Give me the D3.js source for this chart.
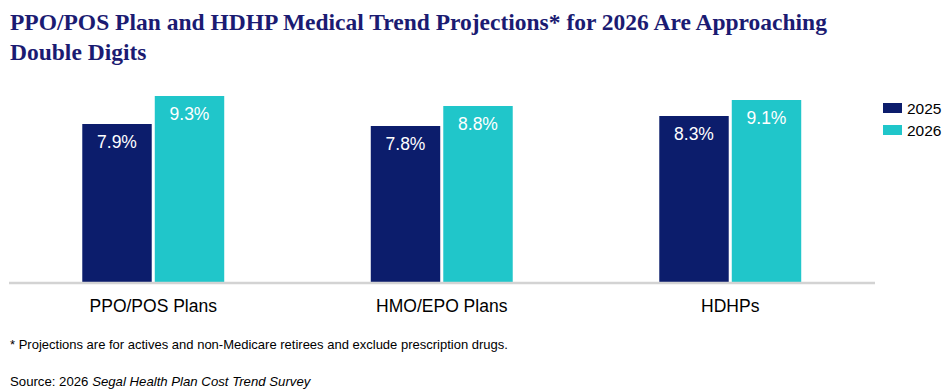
<!DOCTYPE html>
<html>
<head>
<meta charset="utf-8">
<script src="https://cdn.jsdelivr.net/npm/d3@7/dist/d3.min.js"></script>
<style>
  html, body { margin: 0; padding: 0; background: #fff; }
  svg { display: block; }
</style>
</head>
<body>
<svg id="chart" width="951" height="392"></svg>
<script>
const categories = ["PPO/POS Plans", "HMO/EPO Plans", "HDHPs"];
const seriesNames = ["2025", "2026"];
const values2025 = [7.9, 7.8, 8.3];
const values2026 = [9.3, 8.8, 9.1];
const titleLines = [
  "PPO/POS Plan and HDHP Medical Trend Projections* for 2026 Are Approaching",
  "Double Digits"
];
const footnote = "* Projections are for actives and non-Medicare retirees and exclude prescription drugs.";
const sourcePlain = "Source: 2026 ";
const sourceItalic = "Segal Health Plan Cost Trend Survey";

const colors = { "2025": "#0c1d6c", "2026": "#20c6ca" };
const seriesValues = { "2025": values2025, "2026": values2026 };

const svg = d3.select("#chart");
const sans = "'Liberation Sans', Arial, Helvetica, sans-serif";

// Title
const title = svg.append("text")
  .attr("x", 10)
  .attr("font-family", "'Liberation Serif', 'Times New Roman', serif")
  .attr("font-weight", "bold")
  .attr("font-size", 23.5)
  .attr("fill", "#1b1b72");
title.selectAll("tspan").data(titleLines).join("tspan")
  .attr("x", 10)
  .attr("y", (d, i) => 30 + i * 29.5)
  .text(d => d);

// Scales
const baseline = 282;
const y = d3.scaleLinear().domain([0, 10]).range([baseline, baseline - 200]);
const x0 = d3.scaleBand().domain(categories).range([9, 874.5])
  .paddingInner(0.508).paddingOuter(0.254);
const x1 = d3.scaleBand().domain(seriesNames).range([0, x0.bandwidth()]).paddingInner(0.042);

const data = categories.map((c, i) => ({
  category: c,
  values: seriesNames.map(s => ({ series: s, value: seriesValues[s][i] }))
}));

const groups = svg.append("g").selectAll("g").data(data).join("g")
  .attr("transform", d => `translate(${x0(d.category)},0)`);

groups.selectAll("rect").data(d => d.values).join("rect")
  .attr("x", d => x1(d.series))
  .attr("y", d => y(d.value))
  .attr("width", x1.bandwidth())
  .attr("height", d => baseline - y(d.value))
  .attr("fill", d => colors[d.series]);

groups.selectAll("text.val").data(d => d.values).join("text")
  .attr("class", "val")
  .attr("x", d => x1(d.series) + x1.bandwidth() / 2)
  .attr("y", d => y(d.value) + 24)
  .attr("text-anchor", "middle")
  .attr("font-family", sans)
  .attr("font-size", 17.5)
  .attr("fill", "#ffffff")
  .text(d => d.value.toFixed(1) + "%");

// Baseline axis
const xAxis = d3.axisBottom(x0).tickSize(0).tickPadding(17);
const axisG = svg.append("g").attr("transform", `translate(0,${baseline + 1})`).call(xAxis);
axisG.select(".domain").attr("stroke", "#d3d3d3").attr("stroke-width", 2.5)
  .attr("d", "M9,0H875");
axisG.selectAll(".tick text")
  .attr("font-family", sans)
  .attr("font-size", 17.5)
  .attr("fill", "#000");

// Legend
const legend = svg.append("g").selectAll("g").data(seriesNames).join("g")
  .attr("transform", (d, i) => `translate(883,${103 + i * 22})`);
legend.append("rect").attr("width", 19).attr("height", 10).attr("fill", d => colors[d]);
legend.append("text").attr("x", 24).attr("y", 11)
  .attr("font-family", sans).attr("font-size", 15.5).attr("fill", "#000")
  .text(d => d);

// Footnote & source
svg.append("text").attr("x", 10).attr("y", 349)
  .attr("font-family", sans).attr("font-size", 13).attr("fill", "#000")
  .text(footnote);
const src = svg.append("text").attr("x", 10).attr("y", 386)
  .attr("font-family", sans).attr("font-size", 13.2).attr("fill", "#000");
src.append("tspan").text(sourcePlain);
src.append("tspan").attr("font-style", "italic").text(sourceItalic);
</script>
</body>
</html>
